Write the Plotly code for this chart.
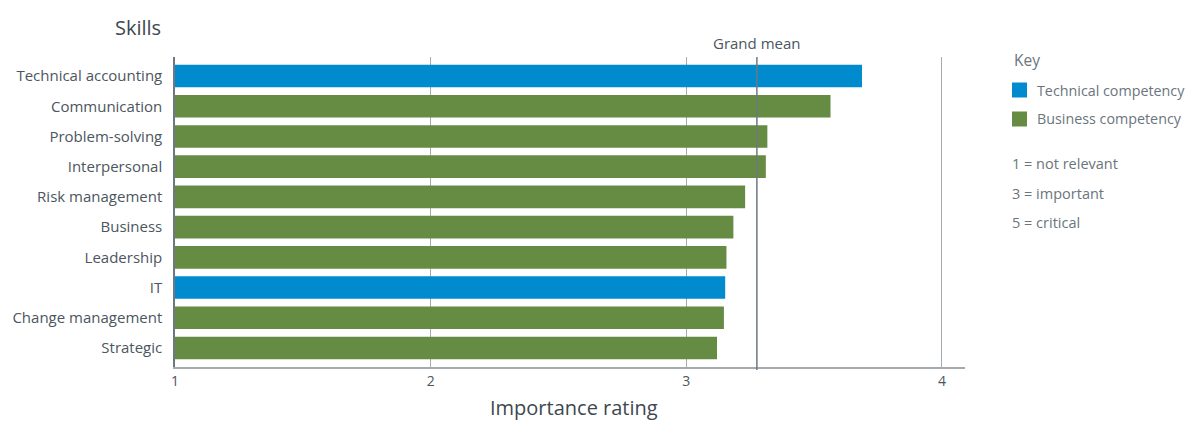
import plotly.graph_objects as go

skills = ["Technical accounting", "Communication", "Problem-solving", "Interpersonal",
          "Risk management", "Business", "Leadership", "IT", "Change management", "Strategic"]
ratings = [3.687, 3.564, 3.317, 3.311, 3.23, 3.184, 3.157, 3.152, 3.147, 3.12]
competency = ["Technical", "Business", "Business", "Business", "Business",
              "Business", "Business", "Technical", "Business", "Business"]
grand_mean = 3.276
x_ticks = [1, 2, 3, 4]

BLUE = "#008bcf"
GREEN = "#668c44"
TEXT = "#4b5660"
GRID = "#a3abb1"
FONT = "Open Sans"

colors = [BLUE if c == "Technical" else GREEN for c in competency]

W, H = 1189, 421
ml, mr, mt, mb = 175, 224, 57, 54
pw, ph = W - ml - mr, H - mt - mb


def px(x):
    return (x - ml) / pw


def py(y):
    return 1 - (y - mt) / ph


fig = go.Figure()
fig.add_trace(go.Bar(
    y=skills, x=[r - 1 for r in ratings], base=1, orientation="h",
    marker=dict(color=colors, line=dict(width=0)), width=0.75,
    showlegend=False, hoverinfo="skip"))

fig.add_shape(type="line", xref="x", yref="paper", x0=grand_mean, x1=grand_mean,
              y0=py(370), y1=1, line=dict(color="#6e7880", width=1.5))
fig.add_annotation(x=grand_mean, xref="x", y=py(43), yref="paper", yanchor="middle",
                   text="Grand mean", showarrow=False, font=dict(size=15, color=TEXT, family=FONT))

fig.update_xaxes(range=[1, 4.09], tickvals=x_ticks, ticktext=[str(v) for v in x_ticks],
                 showgrid=True, gridcolor=GRID, gridwidth=1, zeroline=False,
                 showline=True, linecolor=GRID, linewidth=1.5, automargin=False,
                 tickfont=dict(size=14, color=TEXT, family=FONT), ticks="",
                 title=dict(text=""))
fig.update_yaxes(range=[9.63, -0.63], showgrid=False, showline=True, linecolor="#6e7880",
                 linewidth=1.5, ticks="", ticklabelstandoff=8, automargin=False,
                 tickfont=dict(size=15, color=TEXT, family=FONT))

fig.add_annotation(x=px(574), y=py(407), xref="paper", yref="paper", xanchor="center", yanchor="middle",
                   text="Importance rating", showarrow=False,
                   font=dict(size=20, color="#3d4850", family=FONT))
fig.add_annotation(x=px(163), xref="paper", y=py(27), yref="paper", xanchor="right", yanchor="middle",
                   text="Skills", showarrow=False, font=dict(size=20, color="#3d4850", family=FONT))

# Key
L = 1012
KEYC = "#6b757d"
fig.add_annotation(x=px(L), y=py(60), xref="paper", yref="paper", xanchor="left", yanchor="middle",
                   text="Key", showarrow=False, font=dict(size=15.5, color=KEYC, family=FONT))
for yc, col, lab in [(90, BLUE, "Technical competency"), (119, GREEN, "Business competency")]:
    fig.add_shape(type="rect", xref="paper", yref="paper", x0=px(L), x1=px(L + 15),
                  y0=py(yc - 7.5), y1=py(yc + 7.5), fillcolor=col, line=dict(width=0))
    fig.add_annotation(x=px(1035), y=py(yc), xref="paper", yref="paper", xanchor="left",
                       yanchor="middle", text=lab, showarrow=False,
                       font=dict(size=14.3, color=KEYC, family=FONT))
for yc, lab in [(163, "1 = not relevant"), (193, "3 = important"), (222, "5 = critical")]:
    fig.add_annotation(x=px(L - 2), y=py(yc), xref="paper", yref="paper", xanchor="left",
                       yanchor="middle", text=lab, showarrow=False,
                       font=dict(size=14.5, color=KEYC, family=FONT))

fig.update_layout(width=W, height=H, margin=dict(l=ml, r=mr, t=mt, b=mb, autoexpand=False),
                  plot_bgcolor="white", paper_bgcolor="white", bargap=0.25)
fig.write_html("out.html")
